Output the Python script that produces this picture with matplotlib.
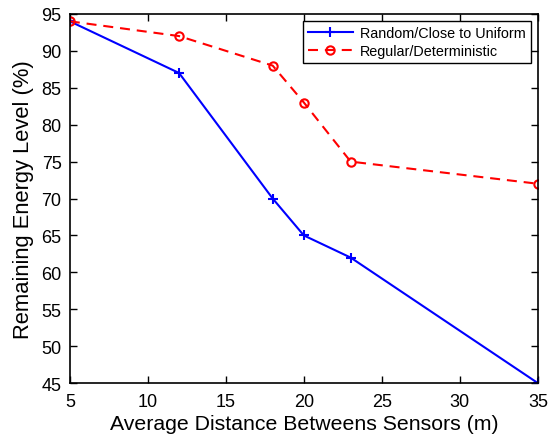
import matplotlib
matplotlib.use('Agg')
import matplotlib.pyplot as plt

plt.rcParams['font.family'] = ['Liberation Sans', 'DejaVu Sans']

distance = [5, 12, 18, 20, 23, 35]
random_uniform = [94, 87, 70, 65, 62, 45]
regular_det = [94, 92, 88, 83, 75, 72]

fig = plt.figure(figsize=(5.5, 4.39), dpi=100)
ax = fig.add_axes([0.127, 0.125, 0.851, 0.841])

ax.plot(distance, random_uniform, color='blue', marker='+', markersize=7.5,
        markeredgewidth=1.5, linewidth=1.5, label='Random/Close to Uniform')
ax.plot(distance, regular_det, color='red', linestyle=(0, (4.8, 3.3)), marker='o',
        markersize=6, markerfacecolor='none', markeredgewidth=1.5,
        linewidth=1.5, label='Regular/Deterministic')

ax.set_xlim(5, 35)
ax.set_ylim(45, 95)
ax.set_xticks(range(5, 36, 5))
ax.set_yticks(range(45, 96, 5))
ax.tick_params(direction='in', labelsize=13, length=5, width=1, top=True, right=True,
               labeltop=False, labelright=False)
ax.tick_params(axis='x', pad=7)
ax.tick_params(axis='y', pad=6)
for s in ax.spines.values():
    s.set_linewidth(1.2)

ax.set_xlabel('Average Distance Betweens Sensors (m)', fontsize=15.3, labelpad=3)
ax.set_ylabel('Remaining Energy Level (%)', fontsize=15.8, labelpad=5)

leg = ax.legend(loc='upper right', fontsize=10.4, fancybox=False, framealpha=1,
                edgecolor='black', borderaxespad=0.5, handlelength=3.1,
                borderpad=0.35, labelspacing=0.25, handletextpad=0.5)
leg.get_frame().set_linewidth(1.0)

fig.savefig('out.png', dpi=100)
